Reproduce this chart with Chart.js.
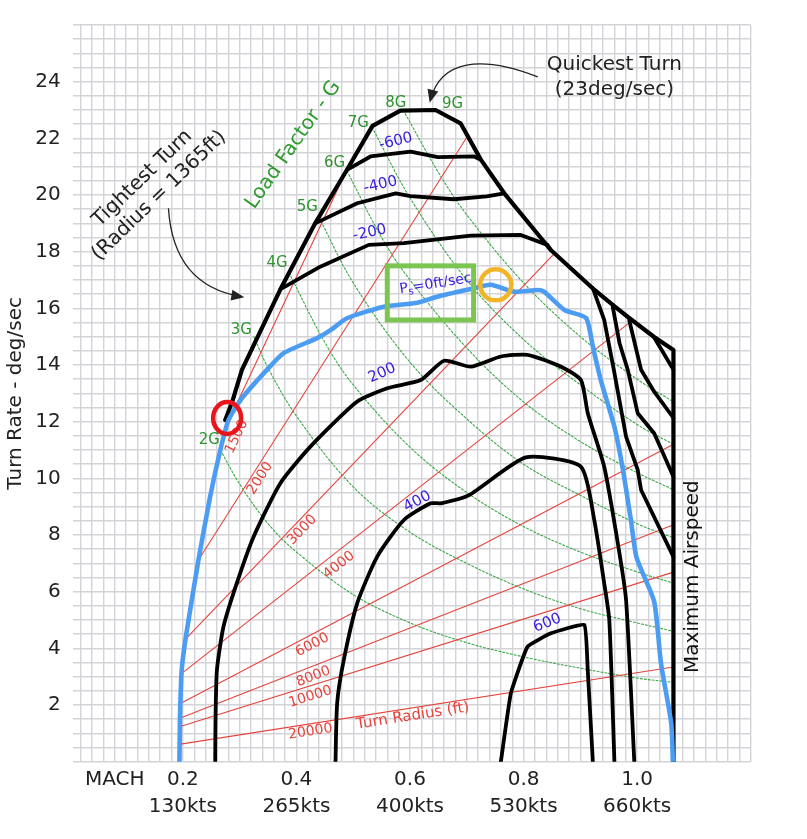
<!DOCTYPE html>
<html>
<head>
<meta charset="utf-8">
<title>Turn performance diagram</title>
<script src="https://cdn.jsdelivr.net/npm/chart.js@4.4.1/dist/chart.umd.min.js"></script>
<style>
  html, body { margin: 0; padding: 0; background: #fff; }
  #wrap { width: 807px; height: 839px; }
</style>
</head>
<body>
<div id="wrap"><canvas id="chart" width="807" height="839"></canvas></div>
<script>
// all curves are [mach, turn rate deg/sec] pairs

// outer flight envelope (lift limit, 9G limit, max airspeed)
const envelope = [
  [0.2746, 12.06], [0.287, 12.71], [0.304, 13.83], [0.372, 16.68], [0.433, 19.0],
  [0.489, 20.89], [0.534, 22.44], [0.583, 22.98], [0.645, 23.0], [0.689, 22.53],
  [0.725, 21.24], [0.766, 20.06], [0.848, 18.06], [0.925, 16.65], [0.957, 16.12],
  [0.986, 15.66], [1.03, 14.99], [1.064, 14.53], [1.064, 0]
]

// specific excess power contours
const psZero = [
  [0.194, 0], [0.195, 1.6], [0.198, 3.24], [0.206, 4.5], [0.2275, 7.12], [0.248, 9.35],
  [0.266, 11.0], [0.2805, 12.06], [0.304, 12.83], [0.348, 13.83], [0.3775, 14.42],
  [0.4365, 14.95], [0.46, 15.23], [0.489, 15.65], [0.554, 16.06], [0.613, 16.2],
  [0.648, 16.41], [0.707, 16.68], [0.742, 16.83], [0.783, 16.59], [0.825, 16.65],
  [0.836, 16.59], [0.872, 15.94], [0.91, 15.66], [0.922, 14.65], [0.936, 13.47],
  [0.96, 11.82], [0.975, 10.3], [0.989, 8.53], [0.999, 7.2], [1.03, 5.65],
  [1.042, 3.47], [1.06, 1.36], [1.063, 0]
]
const psMinus200 = [
  [0.372, 16.68], [0.442, 17.47], [0.5275, 18.24], [0.589, 18.3], [0.636, 18.41],
  [0.707, 18.57], [0.795, 18.59], [0.842, 18.24], [0.848, 18.06]
]
const psMinus400 = [
  [0.433, 19.0], [0.507, 19.71], [0.575, 20.06], [0.601, 19.96], [0.677, 19.85],
  [0.735, 19.95], [0.766, 20.06]
]
const psMinus600 = [
  [0.489, 20.89], [0.5305, 21.36], [0.601, 21.53], [0.649, 21.34], [0.713, 21.36],
  [0.725, 21.24]
]
const ps200 = [
  [0.257, 0], [0.2575, 1.5], [0.26, 3.24], [0.2716, 4.77], [0.295, 6.3], [0.3246, 7.94],
  [0.3717, 9.83], [0.4246, 11.12], [0.507, 12.71], [0.56, 13.18], [0.619, 13.47],
  [0.66, 14.15], [0.707, 13.94], [0.76, 14.3], [0.807, 14.36], [0.866, 13.94],
  [0.901, 13.47], [0.913, 12.31], [0.942, 10.41], [0.966, 7.71], [0.9805, 5.71], [0.995, 0]
]
const ps400 = [
  [0.4688, 0], [0.4717, 2.06], [0.4834, 3.59], [0.507, 5.59], [0.5423, 7.24],
  [0.5893, 8.53], [0.6364, 9.12], [0.654, 9.12], [0.704, 9.41], [0.804, 10.74],
  [0.901, 10.41], [0.9245, 8.53], [0.942, 6.3], [0.951, 5.0], [0.96, 0]
]
const ps600 = [
  [0.76, 0], [0.7776, 2.41], [0.807, 4.06], [0.848, 4.53], [0.907, 4.83], [0.913, 3.24], [0.922, 0]
]
// negative contours past the 9G limit, running down to maximum airspeed
const highMach = [
  [[0.922, 16.71], [0.942, 15.59], [0.959, 13.83], [0.9805, 11.47], [1.001, 10.3], [1.007, 9.59], [1.064, 7.23]],
  [[0.957, 16.06], [0.969, 14.77], [0.9835, 13.83], [1.001, 12.3], [1.03, 11.59], [1.064, 10.06]],
  [[0.986, 15.59], [1.007, 13.83], [1.03, 13.06], [1.064, 12.13]],
  [[1.03, 14.97], [1.064, 13.83]]
]

// constant turn radius lines (ft)
const radiusLabels = ['1500', '2000', '3000', '4000', '6000', '8000', '10000', '20000']
const radiusStart = [
  [0.28, 12.0], [0.2275, 7.12], [0.206, 4.35], [0.202, 3.18], [0.2, 2.1], [0.198, 1.56], [0.197, 1.25], [0.196, 0.62]
]
const radiusEnd = [
  [0.489, 20.9], [0.702, 22.1], [0.855, 17.95], [0.99, 15.55], [1.064, 11.2], [1.064, 8.36], [1.064, 6.69], [1.064, 3.34]
]
const radiusLabelAt = [
  [0.295, 11.47], [0.336, 10.0], [0.41, 8.18], [0.475, 6.94], [0.428, 4.12], [0.43, 3.0], [0.4246, 2.29], [0.4246, 1.06]
]

// constant load factor lines, 2G to 8G
const gLabels = ['2G', '3G', '4G', '5G', '6G', '7G', '8G', '9G']
const gLabelAt = [
  [0.2467, 11.36], [0.303, 15.24], [0.366, 17.61], [0.419, 19.57], [0.467, 21.12], [0.509, 22.53], [0.575, 23.24], [0.675, 23.22]
]
const gLines = [
  [[0.266, 11.0], [0.3, 9.8], [0.35, 8.4], [0.4, 7.4], [0.5, 5.9], [0.6, 4.9], [0.7, 4.2], [0.8, 3.7], [0.9, 3.3], [1.0, 2.95], [1.064, 2.8]],
  [[0.325, 15.0], [0.35, 13.9], [0.4, 12.2], [0.5, 9.7], [0.6, 8.1], [0.7, 7.0], [0.8, 6.1], [0.9, 5.4], [1.0, 4.9], [1.064, 4.6]],
  [[0.387, 17.25], [0.45, 14.8], [0.5, 13.3], [0.6, 11.1], [0.7, 9.5], [0.8, 8.3], [0.9, 7.4], [1.0, 6.7], [1.064, 6.3]],
  [[0.44, 19.2], [0.5, 16.9], [0.6, 14.1], [0.7, 12.1], [0.8, 10.5], [0.9, 9.4], [1.0, 8.4], [1.064, 7.9]],
  [[0.489, 20.85], [0.55, 18.5], [0.6, 17.0], [0.7, 14.6], [0.8, 12.7], [0.9, 11.3], [1.0, 10.2], [1.064, 9.6]],
  [[0.533, 22.4], [0.6, 19.9], [0.7, 17.0], [0.8, 14.9], [0.9, 13.3], [1.0, 11.9], [1.064, 11.2]],
  [[0.588, 23.0], [0.65, 20.8], [0.7, 19.3], [0.8, 16.9], [0.9, 15.0], [1.0, 13.5], [1.064, 12.7]]
]

// axis labels
const machTicks = [0.2, 0.4, 0.6, 0.8, 1.0]
const machText = ['0.2', '0.4', '0.6', '0.8', '1.0']
const knotsText = ['130kts', '265kts', '400kts', '530kts', '660kts']

const FONT = '"DejaVu Sans", sans-serif'
const RED = '#e4443c'
const GREEN = '#2f922f'
const PSBLUE = '#3a20dc'

// Ps contour labels: text, where, tilt (deg)
const psNotes = [
  ['-600', [0.575, 21.89], -14], ['-400', [0.548, 20.36], -13], ['-200', [0.529, 18.67], -12],
  ['200', [0.551, 13.71], -24], ['400', [0.613, 9.18], -28], ['600', [0.842, 4.89], -22]
]

const pts = arr => arr.map(p => ({ x: p[0], y: p[1] }))
const line = (data, color, width, extra) => Object.assign({
  data: pts(data), showLine: true, borderColor: color, borderWidth: width,
  pointRadius: 0, pointHoverRadius: 0, fill: false, tension: 0,
  borderJoinStyle: 'round', borderCapStyle: 'round'
}, extra || {})

const datasets = [
  line(psZero, '#4c9cf1', 4.6, { tension: 0.2 }),
  line(envelope, '#000', 4.2),
  line(psMinus200, '#000', 3.8),
  line(psMinus400, '#000', 3.8),
  line(psMinus600, '#000', 3.8),
  line(ps200, '#000', 3.8, { tension: 0.2 }),
  line(ps400, '#000', 3.8, { tension: 0.2 }),
  line(ps600, '#000', 3.8, { tension: 0.1 }),
  ...highMach.map(c => line(c, '#000', 3.8)),
  ...radiusStart.map((s, i) => line([s, radiusEnd[i]], RED, 1.1)),
  ...gLines.map(g => line(g, '#3aa845', 1.1, { borderDash: [2, 2], tension: 0.35 }))
]

function text(ctx, t, x, y, angle, font, color) {
  ctx.save()
  ctx.translate(x, y)
  ctx.rotate(angle)
  ctx.font = font
  ctx.fillStyle = color
  ctx.textAlign = 'center'
  ctx.textBaseline = 'middle'
  ctx.fillText(t, 0, 0)
  ctx.restore()
}

function arrow(ctx, p) {
  ctx.save()
  ctx.strokeStyle = '#222'
  ctx.fillStyle = '#222'
  ctx.lineWidth = 1.3
  ctx.beginPath()
  ctx.moveTo(p[0][0], p[0][1])
  ctx.bezierCurveTo(p[1][0], p[1][1], p[2][0], p[2][1], p[3][0], p[3][1])
  ctx.stroke()
  const a = Math.atan2(p[3][1] - p[2][1], p[3][0] - p[2][0])
  const L = 13, W = 5.5
  const tx = p[3][0] + 3 * Math.cos(a), ty = p[3][1] + 3 * Math.sin(a)
  ctx.beginPath()
  ctx.moveTo(tx, ty)
  ctx.lineTo(tx - L * Math.cos(a) + W * Math.sin(a), ty - L * Math.sin(a) - W * Math.cos(a))
  ctx.lineTo(tx - L * Math.cos(a) - W * Math.sin(a), ty - L * Math.sin(a) + W * Math.cos(a))
  ctx.closePath()
  ctx.fill()
  ctx.restore()
}

const notesPlugin = {
  id: 'notes',
  afterDatasetsDraw(chart) {
    const ctx = chart.ctx
    const sx = chart.scales.x, sy = chart.scales.y
    const P = p => [sx.getPixelForValue(p[0]), sy.getPixelForValue(p[1])]
    const deg = d => d * Math.PI / 180

    // turn radius labels, tilted like their lines
    radiusLabels.forEach((t, i) => {
      const a0 = P(radiusStart[i]), a1 = P(radiusEnd[i])
      const at = P(radiusLabelAt[i])
      text(ctx, t, at[0], at[1], Math.atan2(a1[1] - a0[1], a1[0] - a0[0]), '14px ' + FONT, RED)
    })
    {
      const a0 = P(radiusStart[7]), a1 = P(radiusEnd[7]), at = P([0.605, 1.61])
      text(ctx, 'Turn Radius (ft)', at[0], at[1], Math.atan2(a1[1] - a0[1], a1[0] - a0[0]), '15px ' + FONT, RED)
    }

    // load factor labels
    gLabels.forEach((t, i) => {
      const at = P(gLabelAt[i])
      text(ctx, t, at[0], at[1], 0, '15px ' + FONT, GREEN)
    })
    {
      const at = P([0.3946, 21.77])
      text(ctx, 'Load Factor - G', at[0], at[1], deg(-55), '20px ' + FONT, '#2f9a2f')
    }

    // Ps labels
    psNotes.forEach(n => {
      const at = P(n[1])
      text(ctx, n[0], at[0], at[1], deg(n[2]), '15px ' + FONT, PSBLUE)
    })
    {
      const at = P([0.645, 16.86])
      ctx.save()
      ctx.translate(at[0], at[1])
      ctx.rotate(deg(-9))
      ctx.fillStyle = PSBLUE
      ctx.textAlign = 'left'
      ctx.textBaseline = 'middle'
      ctx.font = '14px ' + FONT
      const wP = ctx.measureText('P').width, wR = ctx.measureText('=0ft/sec').width
      ctx.font = '10px ' + FONT
      const wS = ctx.measureText('s').width
      let cx = -(wP + wS + wR) / 2
      ctx.font = '14px ' + FONT
      ctx.fillText('P', cx, 0)
      cx += wP
      ctx.font = '10px ' + FONT
      ctx.fillText('s', cx, 4)
      cx += wS
      ctx.font = '14px ' + FONT
      ctx.fillText('=0ft/sec', cx, 0)
      ctx.restore()
    }

    // callouts
    {
      const at = P([0.1435, 20.28])
      ctx.save()
      ctx.translate(at[0], at[1])
      ctx.rotate(deg(-44))
      ctx.font = '20px ' + FONT
      ctx.fillStyle = '#222'
      ctx.textAlign = 'center'
      ctx.textBaseline = 'middle'
      ctx.fillText('Tightest Turn', 0, -12)
      ctx.fillText('(Radius = 1365ft)', 0, 12)
      ctx.restore()
      arrow(ctx, [[0.1746, 19.53], [0.181, 17.53], [0.2305, 16.65], [0.303, 16.41]].map(P))
    }
    {
      const a = P([0.96, 24.59]), b = P([0.96, 23.71])
      text(ctx, 'Quickest Turn', a[0], a[1], 0, '20px ' + FONT, '#222')
      text(ctx, '(23deg/sec)', b[0], b[1], 0, '20px ' + FONT, '#222')
      arrow(ctx, [[0.825, 24.17], [0.725, 24.95], [0.654, 24.77], [0.636, 23.36]].map(P))
    }
    {
      const at = P([1.098, 6.53])
      text(ctx, 'Maximum Airspeed', at[0], at[1], deg(-90), '20px ' + FONT, '#111')
    }

    // highlight marks
    ctx.save()
    let c = P([0.278, 12.13])
    ctx.strokeStyle = '#e8161c'
    ctx.lineWidth = 4.5
    ctx.beginPath()
    ctx.ellipse(c[0], c[1], 14, 16, 0, 0, Math.PI * 2)
    ctx.stroke()
    c = P([0.751, 16.83])
    ctx.strokeStyle = '#f2b52a'
    ctx.beginPath()
    ctx.arc(c[0], c[1], 15.5, 0, Math.PI * 2)
    ctx.stroke()
    const r0 = P([0.56, 17.5]), r1 = P([0.712, 15.59])
    ctx.strokeStyle = '#7cc552'
    ctx.lineWidth = 5
    ctx.strokeRect(r0[0], r0[1], r1[0] - r0[0], r1[1] - r0[1])
    ctx.restore()
  }
}

new Chart(document.getElementById('chart'), {
  type: 'scatter',
  data: { datasets },
  plugins: [notesPlugin],
  options: {
    responsive: false,
    animation: false,
    events: [],
    layout: { padding: { top: 25, right: 56.3, bottom: 0, left: 0 } },
    plugins: { legend: { display: false }, tooltip: { enabled: false } },
    scales: {
      x: {
        type: 'linear',
        min: 0.006,
        max: 1.2,
        border: { display: false },
        grid: { color: '#d3d3d8', lineWidth: 1.4, drawTicks: false },
        ticks: {
          stepSize: 0.02,
          includeBounds: false,
          autoSkip: false,
          maxRotation: 0,
          minRotation: 0,
          padding: 5,
          color: '#222',
          font: { family: FONT, size: 20, lineHeight: 1.33 },
          callback: v => {
            const i = machTicks.findIndex(t => Math.abs(t - v) < 1e-6)
            if (i >= 0) return [machText[i], knotsText[i]]
            if (Math.abs(v - 0.08) < 1e-6) return ['MACH', '']
            return ''
          }
        },
        afterFit: s => { s.height = 77.3 }
      },
      y: {
        min: 0,
        max: 26,
        border: { display: false },
        grid: { color: '#d3d3d8', lineWidth: 1.4, drawTicks: false },
        ticks: {
          stepSize: 0.5,
          autoSkip: false,
          padding: 12,
          color: '#222',
          font: { family: FONT, size: 20 },
          callback: v => (v % 2 === 0 && v > 0 && v < 26) ? String(v) : ''
        },
        title: {
          display: true,
          text: 'Turn Rate - deg/sec',
          color: '#222',
          font: { family: FONT, size: 20 },
          padding: { top: 4, bottom: 0 }
        },
        afterFit: s => { s.width = 72.7 }
      }
    }
  }
})
</script>
</body>
</html>
